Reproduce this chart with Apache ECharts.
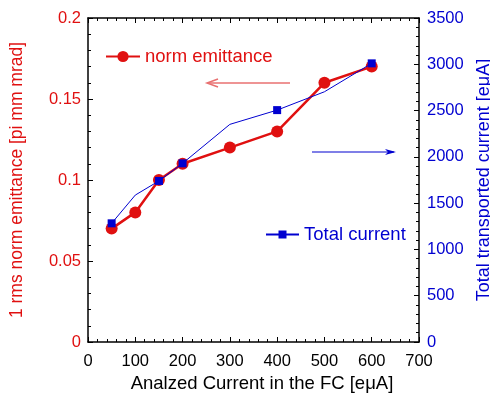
<!DOCTYPE html>
<html><head><meta charset="utf-8">
<script src="https://cdn.jsdelivr.net/npm/echarts@6/dist/echarts.min.js"></script>
<style>html,body{margin:0;padding:0;background:#fff}#c{width:490px;height:401px}</style>
</head><body><div id="c"></div>
<script>
const xValues = [50, 100, 150, 200, 300, 400, 500, 600];
const emittance = [0.07, 0.08, 0.10, 0.11, 0.12, 0.13, 0.16, 0.17];
const totalCurrent = [1282, 1587, 1740, 1930, 2351, 2505, 2703, 3010];
const currentMarked = [50, 150, 200, 400, 600];
const xTicks = [0, 100, 200, 300, 400, 500, 600, 700];
const leftTicks = [0, 0.05, 0.1, 0.15, 0.2];
const rightTicks = [0, 500, 1000, 1500, 2000, 2500, 3000, 3500];

const RED = '#e01010', BLUE = '#0000d0';
const FONT = 'Liberation Sans, Arial, sans-serif';
const chart = echarts.init(document.getElementById('c'));
const tickCommon = {
  axisLine: {show: true, onZero: false, lineStyle: {color: '#000', width: 1.5}},
  axisTick: {show: true, inside: true, length: 5, lineStyle: {color: '#000'}},
  minorTick: {show: true, splitNumber: 5, length: 3, lineStyle: {color: '#000'}},
  splitLine: {show: false}
};
const plain = v => String(v);
chart.setOption({
  animation: false,
  grid: {left: 88, right: 71, top: 18, bottom: 59, containLabel: false, outerBoundsMode: 'none'},
  legend: [
    {left: 105, top: 47, padding: 0, itemWidth: 34, itemHeight: 14, itemGap: 4,
     data: [{name: 'norm emittance'}], textStyle: {color: RED, fontSize: 18.5, fontFamily: FONT}},
    {left: 265, top: 225, padding: 0, itemWidth: 33, itemHeight: 10, itemGap: 4,
     data: [{name: 'Total current'}], textStyle: {color: BLUE, fontSize: 18.5, fontFamily: FONT}}
  ],
  xAxis: [
    Object.assign({type: 'value', position: 'bottom', min: xTicks[0], max: xTicks[xTicks.length - 1],
      interval: xTicks[1] - xTicks[0],
      axisLabel: {color: '#000', fontSize: 16.5, fontFamily: FONT, margin: 11, formatter: plain},
      name: 'Analzed Current in the FC [eμA]', nameLocation: 'middle', nameGap: 32,
      nameTextStyle: {color: '#000', fontSize: 18.5, fontFamily: FONT, padding: [0, 0, 0, 17]}}, tickCommon),
    Object.assign({type: 'value', position: 'top', min: xTicks[0], max: xTicks[xTicks.length - 1],
      interval: xTicks[1] - xTicks[0], axisLabel: {show: false}}, tickCommon)
  ],
  yAxis: [
    Object.assign({type: 'value', position: 'left', min: leftTicks[0], max: leftTicks[leftTicks.length - 1],
      interval: leftTicks[1] - leftTicks[0],
      axisLabel: {color: RED, fontSize: 16.5, fontFamily: FONT, margin: 7, formatter: plain},
      name: '1 rms norm emittance [pi mm mrad]', nameLocation: 'middle', nameGap: 62, nameRotate: 90,
      nameTextStyle: {color: RED, fontSize: 17.5, fontFamily: FONT}}, tickCommon),
    Object.assign({type: 'value', position: 'right', min: rightTicks[0], max: rightTicks[rightTicks.length - 1],
      interval: rightTicks[1] - rightTicks[0],
      axisLabel: {color: BLUE, fontSize: 16.5, fontFamily: FONT, margin: 8, formatter: plain},
      name: 'Total transported current [eμA]', nameLocation: 'middle', nameGap: 50, nameRotate: 90,
      nameTextStyle: {color: BLUE, fontSize: 18, fontFamily: FONT}}, tickCommon)
  ],
  series: [
    {name: 'Total current', type: 'line', xAxisIndex: 0, yAxisIndex: 1, z: 3,
     data: xValues.map((x, i) => currentMarked.indexOf(x) >= 0 ? [x, totalCurrent[i]] :
       {value: [x, totalCurrent[i]], symbol: 'none'}),
     symbol: 'rect', symbolSize: 8, showAllSymbol: true,
     lineStyle: {color: BLUE, width: 1}, itemStyle: {color: BLUE}},
    {name: 'norm emittance', type: 'line', xAxisIndex: 0, yAxisIndex: 0, z: 2,
     data: xValues.map((x, i) => [x, emittance[i]]),
     symbol: 'circle', symbolSize: 12, showAllSymbol: true,
     lineStyle: {color: RED, width: 2.5}, itemStyle: {color: RED}}
  ],
  graphic: [
    {type: 'line', shape: {x1: 290, y1: 83, x2: 208, y2: 83}, style: {stroke: '#e87070', lineWidth: 1.5}},
    {type: 'polyline', shape: {points: [[218, 79], [207, 83], [218, 87]]}, style: {stroke: '#e87070', lineWidth: 1.5, fill: 'none'}},
    {type: 'line', shape: {x1: 312, y1: 152, x2: 394, y2: 152}, style: {stroke: BLUE, lineWidth: 1.2}},
    {type: 'polygon', shape: {points: [[385, 149], [396, 152], [385, 155], [388, 152]]}, style: {fill: BLUE}}
  ]
});
</script></body></html>
